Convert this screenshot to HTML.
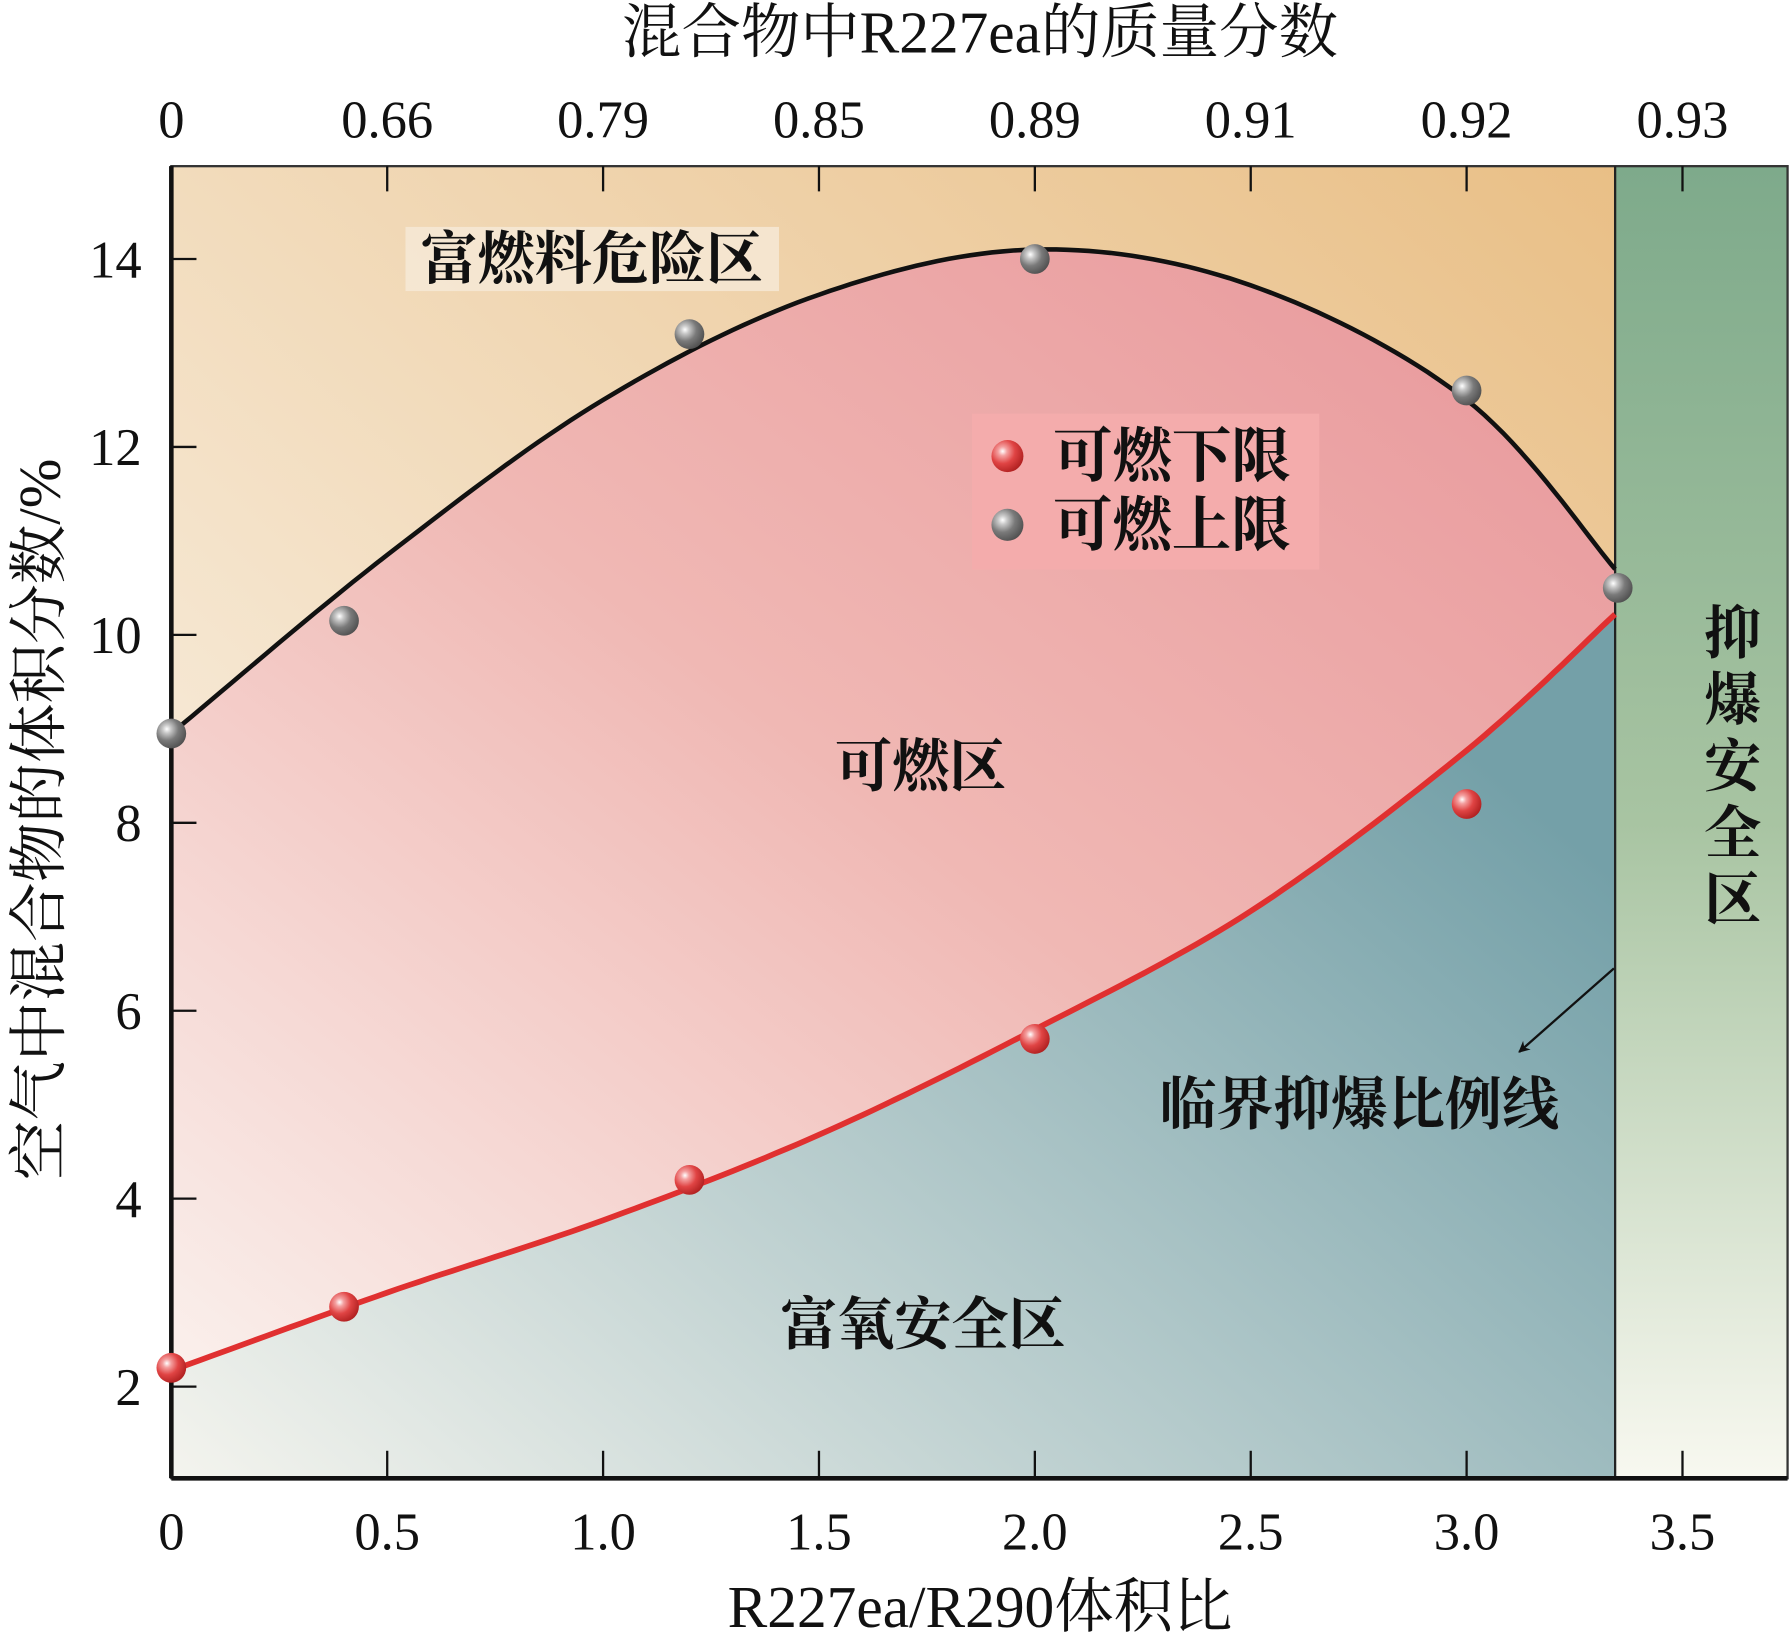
<!DOCTYPE html>
<html><head><meta charset="utf-8"><style>
html,body{margin:0;padding:0;background:#fff;}
svg{display:block;}
text{font-family:"Liberation Serif","Noto Serif CJK SC","Noto Sans CJK SC",serif;fill:#111;}
.b{font-weight:bold;}
</style></head><body>
<svg id="chart" width="1791" height="1641" viewBox="0 0 1568 1432" preserveAspectRatio="none" xmlns="http://www.w3.org/2000/svg">
<defs>
<linearGradient id="gOrange" x1="0" y1="1" x2="1" y2="0"><stop offset="0" stop-color="#fbf8f2"/><stop offset="1" stop-color="#e9bf86"/></linearGradient>
<linearGradient id="gPink" x1="0" y1="1" x2="1" y2="0"><stop offset="0" stop-color="#faf0ec"/><stop offset="0.5" stop-color="#f0b8b4"/><stop offset="1" stop-color="#e8969a"/></linearGradient>
<linearGradient id="gBlue" x1="0" y1="1" x2="1" y2="0.3"><stop offset="0" stop-color="#f4f4ee"/><stop offset="1" stop-color="#74a0a8"/></linearGradient>
<linearGradient id="gGreen" x1="0" y1="0" x2="0" y2="1"><stop offset="0" stop-color="#7eaa8b"/><stop offset="0.5" stop-color="#a8c4a2"/><stop offset="1" stop-color="#f8f8f0"/></linearGradient>
<radialGradient id="bRed" cx="0.35" cy="0.35" r="0.7"><stop offset="0" stop-color="#fff"/><stop offset="0.2" stop-color="#f4a0a0"/><stop offset="0.55" stop-color="#e04444"/><stop offset="1" stop-color="#b02020"/></radialGradient>
<radialGradient id="bGray" cx="0.35" cy="0.35" r="0.7"><stop offset="0" stop-color="#fff"/><stop offset="0.2" stop-color="#c8c8c8"/><stop offset="0.55" stop-color="#7a7a7a"/><stop offset="1" stop-color="#505050"/></radialGradient>
<marker id="arrow" markerWidth="10" markerHeight="10" refX="9" refY="5" orient="auto" markerUnits="userSpaceOnUse"><path d="M0,0 L10,5 L0,10 L3,5 Z" fill="#111"/></marker>
</defs>
<g id="plot"></g>
</svg>
<script>
const xTicks=[0,0.5,1.0,1.5,2.0,2.5,3.0,3.5];
const xTickLabels=["0","0.5","1.0","1.5","2.0","2.5","3.0","3.5"];
const topTickLabels=["0","0.66","0.79","0.85","0.89","0.91","0.92","0.93"];
const yTicks=[2,4,6,8,10,12,14];
const upperX=[0,0.4,1.2,2.0,3.0,3.35];
const upperY=[8.95,10.15,13.2,14.0,12.6,10.5];
const lowerX=[0,0.4,1.2,2.0,3.0];
const lowerY=[2.2,2.85,4.2,5.7,8.2];
const fitX=[0,0.5,1.0,1.5,2.0,2.5,3.0,3.344];
const upperFit=[8.95,10.85,12.5,13.62,14.1,13.72,12.5,10.7];
const lowerFit=[2.17,3.0,3.77,4.68,5.8,7.06,8.77,10.22];
const critical=3.344;
const X=v=>150+v*378, Y=v=>1374-v*82;
const L=150,R=1565,T=145,B=1290;
const NS="http://www.w3.org/2000/svg";
const g=document.getElementById('plot');
function mk(tag,attrs,parent){const e=document.createElementNS(NS,tag);for(const k in attrs)e.setAttribute(k,attrs[k]);(parent||g).appendChild(e);return e;}
function smooth(xs,ys){
  const pts=[];
  for(let i=0;i<xs.length-1;i++){
    const p0=[xs[Math.max(i-1,0)],ys[Math.max(i-1,0)]],p1=[xs[i],ys[i]],p2=[xs[i+1],ys[i+1]],p3=[xs[Math.min(i+2,xs.length-1)],ys[Math.min(i+2,xs.length-1)]];
    for(let s=0;s<20;s++){const t=s/20,t2=t*t,t3=t2*t;
      const f=(a,b,c,d)=>0.5*(2*b+(-a+c)*t+(2*a-5*b+4*c-d)*t2+(-a+3*b-3*c+d)*t3);
      pts.push([X(f(p0[0],p1[0],p2[0],p3[0])),Y(f(p0[1],p1[1],p2[1],p3[1]))]);}
  }
  pts.push([X(xs[xs.length-1]),Y(ys[ys.length-1])]);
  return pts;
}
const up=smooth(fitX,upperFit), lo=smooth(fitX,lowerFit);
const ps=p=>p.map((q,i)=>(i?'L':'M')+q[0].toFixed(1)+','+q[1].toFixed(1)).join(' ');
const cx=X(critical);
let e;
e=mk('rect',{x:L,y:T,width:cx-L,height:B-T,fill:'url(#gOrange)'});


e=mk('path',{d:ps(up)+' '+ps(lo.slice().reverse()).replace('M','L')+' Z',fill:'url(#gPink)'});


e=mk('path',{d:ps(lo)+` L${cx},${B} L${L},${B} Z`,fill:'url(#gBlue)'});


e=mk('rect',{x:cx,y:T,width:R-cx,height:B-T,fill:'url(#gGreen)'});


mk('rect',{x:L,y:T,width:R-L,height:B-T,fill:'none',stroke:'#333','stroke-width':2});
mk('line',{x1:cx,y1:T,x2:cx,y2:B,stroke:'#222','stroke-width':2});
mk('line',{x1:L,y1:T,x2:L,y2:B,stroke:'#111','stroke-width':4});
mk('line',{x1:L,y1:B,x2:R,y2:B,stroke:'#111','stroke-width':4});
xTicks.forEach((v,i)=>{
  mk('line',{x1:X(v),y1:B,x2:X(v),y2:B-24,stroke:'#111','stroke-width':2});
  mk('line',{x1:X(v),y1:T,x2:X(v),y2:T+22,stroke:'#111','stroke-width':2});
  e=mk('text',{x:X(v),y:1352,'font-size':46,'text-anchor':'middle'});e.textContent=xTickLabels[i];
  
  
  e=mk('text',{x:X(v),y:120,'font-size':46,'text-anchor':'middle'});e.textContent=topTickLabels[i];
  
  
});
yTicks.forEach(v=>{
  mk('line',{x1:L,y1:Y(v),x2:L+22,y2:Y(v),stroke:'#111','stroke-width':2});
  e=mk('text',{x:124,y:Y(v)+16,'font-size':46,'text-anchor':'end'});e.textContent=v;
  
  
});
e=mk('path',{d:ps(up),fill:'none',stroke:'#111','stroke-width':4});


e=mk('path',{d:ps(lo),fill:'none',stroke:'#e03030','stroke-width':5});


upperX.forEach((v,i)=>{e=mk('circle',{cx:X(v),cy:Y(upperY[i]),r:13,fill:'url(#bGray)'});

});
lowerX.forEach((v,i)=>{e=mk('circle',{cx:X(v),cy:Y(lowerY[i]),r:13,fill:'url(#bRed)'});

});
</script>
<script>
(function(){
const g=document.getElementById('plot');const NS="http://www.w3.org/2000/svg";
function t(txt,attrs,name){const e=document.createElementNS(NS,'text');for(const k in attrs)e.setAttribute(k,attrs[k]);e.textContent=txt;


g.appendChild(e);return e;}
const bg=document.createElementNS(NS,'rect');
bg.setAttribute('x',355);bg.setAttribute('y',198);bg.setAttribute('width',327);bg.setAttribute('height',56);bg.setAttribute('fill','#f6ead8');bg.setAttribute('opacity','0.8');
g.appendChild(bg);
t('富燃料危险区',{x:518,y:243,'font-size':50,'text-anchor':'middle','class':'b'},'fuel-rich-label');
t('可燃区',{x:806,y:686,'font-size':50,'text-anchor':'middle','class':'b'},'flammable-label');
t('富氧安全区',{x:808,y:1173,'font-size':50,'text-anchor':'middle','class':'b'},'oxygen-rich-label');
t('临界抑爆比例线',{x:1190,y:981,'font-size':50,'text-anchor':'middle','class':'b'},'critical-line-label');
['抑','爆','安','全','区'].forEach((c,i)=>t(c,{x:1517,y:570+i*58,'font-size':50,'text-anchor':'middle','class':'b'},'suppression-label-char'));
const a=document.createElementNS(NS,'line');a.setAttribute('x1',1413);a.setAttribute('y1',845);a.setAttribute('x2',1330);a.setAttribute('y2',918);a.setAttribute('stroke','#111');a.setAttribute('stroke-width',2);a.setAttribute('marker-end','url(#arrow)');


g.appendChild(a);
const lg=document.createElementNS(NS,'g');


g.appendChild(lg);
const r=document.createElementNS(NS,'rect');r.setAttribute('x',851);r.setAttribute('y',361);r.setAttribute('width',304);r.setAttribute('height',136);r.setAttribute('fill','#f4acac');lg.appendChild(r);
[['url(#bRed)','可燃下限',398],['url(#bGray)','可燃上限',458]].forEach(d=>{
const c=document.createElementNS(NS,'circle');c.setAttribute('cx',882);c.setAttribute('cy',d[2]);c.setAttribute('r',14);c.setAttribute('fill',d[0]);


lg.appendChild(c);
const e=document.createElementNS(NS,'text');e.setAttribute('x',922);e.setAttribute('y',d[2]+18);e.setAttribute('font-size',52);e.setAttribute('class','b');e.textContent=d[1];


lg.appendChild(e);});
t('混合物中R227ea的质量分数',{x:858,y:46,'font-size':52,'text-anchor':'middle'},'top-axis-title');
t('R227ea/R290体积比',{x:858,y:1420,'font-size':52,'text-anchor':'middle'},'x-axis-title');
t('空气中混合物的体积分数/%',{x:0,y:0,'font-size':52,'text-anchor':'middle',transform:'translate(52,715) rotate(-90)'},'y-axis-title');
})();
</script>
</body></html>
